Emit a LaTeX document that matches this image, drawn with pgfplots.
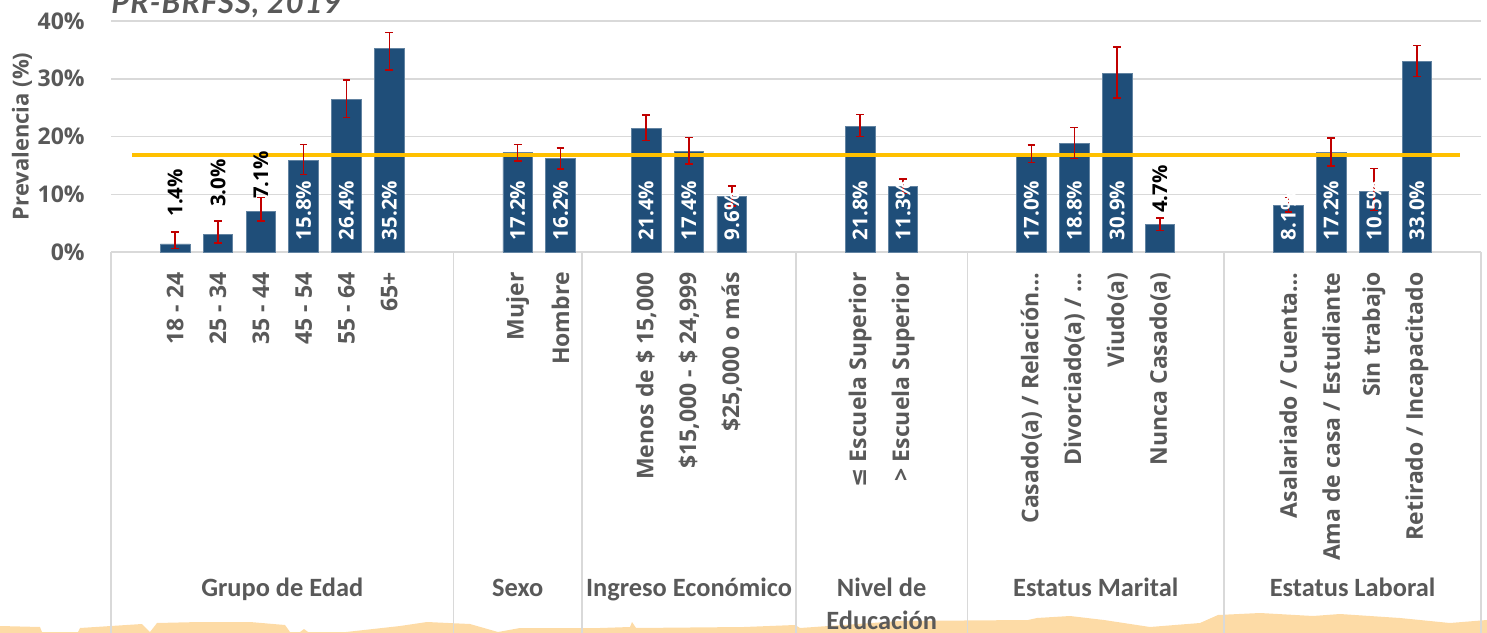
\documentclass[border=0pt]{standalone}
\usepackage{fontspec}
\setmainfont{Open Sans}
\newfontfamily\carlito{Carlito}
\newfontfamily\latofont[LetterSpace=3]{Lato}
\newfontfamily\dejavu{DejaVu Sans}
\usepackage{pgfplots}
\pgfplotsset{compat=1.18}
\definecolor{barblue}{HTML}{1F4E79}
\definecolor{errred}{HTML}{C00000}
\definecolor{lineyel}{HTML}{FFC000}
\definecolor{gridgray}{HTML}{D9D9D9}
\definecolor{txtgray}{HTML}{595959}
\definecolor{peach}{HTML}{FDDBA6}
\begin{document}
\begin{tikzpicture}
% decoration (pixel coordinates, origin top-left)
\begin{scope}[shift={(0pt,316pt)}, x=0.5pt, y=-0.5pt]
\fill[peach] (0,626) -- (40,627) -- (42,632) -- (78,632) -- (80,628) -- (142,624) -- (150,632) -- (157,623) -- (200,622) -- (250,622) -- (285,625) -- (290,632) -- (300,632) -- (304,629) -- (308,632) -- (346,632) -- (400,626) -- (427,622) -- (470,624) -- (498,632) -- (520,628) -- (600,628) -- (630,627) -- (632,622) -- (636,628) -- (744,627) -- (795,625) -- (800,628) -- (900,621) -- (1028,620) -- (1037,618) -- (1070,616) -- (1104,620) -- (1150,627) -- (1200,623) -- (1218,615) -- (1260,613) -- (1313,616) -- (1340,614) -- (1400,618) -- (1450,623) -- (1487,620) -- (1487,640) -- (0,640) -- cycle;
\node[anchor=base west, inner sep=0pt, text=txtgray, font=\latofont\bfseries\itshape\fontsize{15.5}{17}\selectfont] at (111,13.3) {PR-BRFSS, 2019};
\end{scope}
\begin{axis}[
  at={(55.5pt,190pt)}, anchor=south west,
  scale only axis, width=685pt, height=115.5pt,
  xmin=-0.5, xmax=31.5, ymin=0, ymax=40,
  clip=false,
  axis line style={draw=none},
  major tick length=0pt,
  ytick={0,10,20,30,40},
  yticklabels={0\%,10\%,20\%,30\%,40\%},
  ymajorgrids, grid style={draw=gridgray, line width=0.75pt},
  yticklabel style={font=\bfseries\fontsize{11.5}{13}\selectfont, text=txtgray, inner sep=0pt, anchor=east},
  yticklabel shift=13pt,
  xtick={1,2,3,4,5,6,9,10,12,13,14,17,18,21,22,23,24,27,28,29,30},
  xticklabels={18 - 24, 25 - 34, 35 - 44, 45 - 54, 55 - 64, 65+, Mujer, Hombre,
    {Menos de \$ 15,000}, {\$15,000 - \$ 24,999}, {\$25,000 o más},
    {{\dejavu\bfseries ≤} Escuela Superior}, {> Escuela Superior},
    {Casado(a) / Relación…}, {Divorciado(a) / …}, Viudo(a), Nunca Casado(a),
    {Asalariado / Cuenta…}, {Ama de casa / Estudiante}, Sin trabajo, {Retirado / Incapacitado}},
  xticklabel style={font=\bfseries\fontsize{11.5}{13}\selectfont, text=txtgray, inner sep=0pt, rotate=90, anchor=east},
  xticklabel shift=10pt,
  ylabel={Prevalencia (\%)},
  every axis y label/.style={at={(axis description cs:-0.065,0.5)}, rotate=90, anchor=center, font=\bfseries\fontsize{11}{13}\selectfont, text=txtgray},
]
% separators
\foreach \s in {-0.5,7.5,10.5,15.5,19.5,25.5,31.5}{
  \edef\tmp{\noexpand\draw[gridgray, line width=0.75pt] (axis cs:\s,0) -- ([yshift=-200pt]axis cs:\s,0);}\tmp
}
% bars
\addplot[ybar, bar width=14.8pt, fill=barblue, draw=barblue!70!white, line width=0.4pt]
 table[x=x, y=y] {
x y
1 1.4
2 3.0
3 7.1
4 15.8
5 26.4
6 35.2
9 17.2
10 16.2
12 21.4
13 17.4
14 9.6
17 21.8
18 11.3
21 17.0
22 18.8
23 30.9
24 4.7
27 8.1
28 17.2
29 10.5
30 33.0
};
% reference line
\addplot[lineyel, line width=2pt] coordinates {(0,16.8) (31,16.8)};
% error bars
\addplot[draw=none, mark=none,
  error bars/.cd, y dir=both, y explicit,
  error bar style={draw=errred, line width=0.75pt, solid},
  error mark options={draw=errred, mark size=1.9pt, line width=0.75pt, rotate=90}]
 table[x=x, y=y, y error plus=ep, y error minus=em] {
x y ep em
1 1.4 2.1 0.8
2 3.0 2.4 1.4
3 7.1 2.3 1.7
4 15.8 2.85 2.4
5 26.4 3.4 3.1
6 35.2 2.8 3.7
9 17.2 1.45 1.4
10 16.2 1.8 1.8
12 21.4 2.3 2.1
13 17.4 2.4 2.2
14 9.6 1.8 1.6
17 21.8 2.0 1.8
18 11.3 1.3 1.2
21 17.0 1.5 1.5
22 18.8 2.8 2.6
23 30.9 4.6 4.2
24 4.7 1.2 1.0
27 8.1 1.3 1.2
28 17.2 2.5 2.3
29 10.5 4.0 3.3
30 33.0 2.8 2.6
};
% white labels inside bars
\addplot[draw=none, mark=none, point meta=explicit,
  nodes near coords={\pgfmathprintnumber[fixed, fixed zerofill, precision=1, assume math mode=true]{\pgfplotspointmeta}\%},
  nodes near coords style={rotate=90, anchor=west, inner sep=0pt, text=white, font=\bfseries\fontsize{10.2}{12}\selectfont}]
 table[x=x, y=ly, meta=v] {
x ly v
4 2.0 15.8
5 2.0 26.4
6 2.0 35.2
9 2.0 17.2
10 2.0 16.2
12 2.0 21.4
13 2.0 17.4
14 2.0 9.6
17 2.0 21.8
18 2.0 11.3
21 2.0 17.0
22 2.0 18.8
23 2.0 30.9
27 2.0 8.1
28 2.0 17.2
29 2.0 10.5
30 2.0 33.0
};
% black labels above small bars
\addplot[draw=none, mark=none, point meta=explicit,
  nodes near coords={\pgfmathprintnumber[fixed, fixed zerofill, precision=1, assume math mode=true]{\pgfplotspointmeta}\%},
  nodes near coords style={rotate=90, anchor=west, inner sep=0pt, text=black, font=\bfseries\fontsize{10.2}{12}\selectfont}]
 table[x=x, y=ly, meta=v] {
x ly v
1 6.06 1.4
2 7.74 3.0
3 9.13 7.1
24 6.7 4.7
};
% group labels
\foreach \gx/\gt in {3.5/Grupo de Edad, 9/Sexo, 13/Ingreso Económico, 17.5/Nivel de, 22.5/Estatus Marital, 28.5/Estatus Laboral}{
  \edef\tmp{\noexpand\node[anchor=base, inner sep=0pt, text=txtgray, font=\noexpand\carlito\noexpand\bfseries\noexpand\fontsize{13.2}{15}\noexpand\selectfont] at ([yshift=-172pt]axis cs:\gx,0) {\gt};}\tmp
}
\node[anchor=base, inner sep=0pt, text=txtgray, font=\carlito\bfseries\fontsize{13.2}{15}\selectfont] at ([yshift=-188.5pt]axis cs:17.5,0) {Educación};
\end{axis}
\pgfresetboundingbox
\path[use as bounding box] (0,0) rectangle (743.5pt,316pt);
\end{tikzpicture}
\end{document}
